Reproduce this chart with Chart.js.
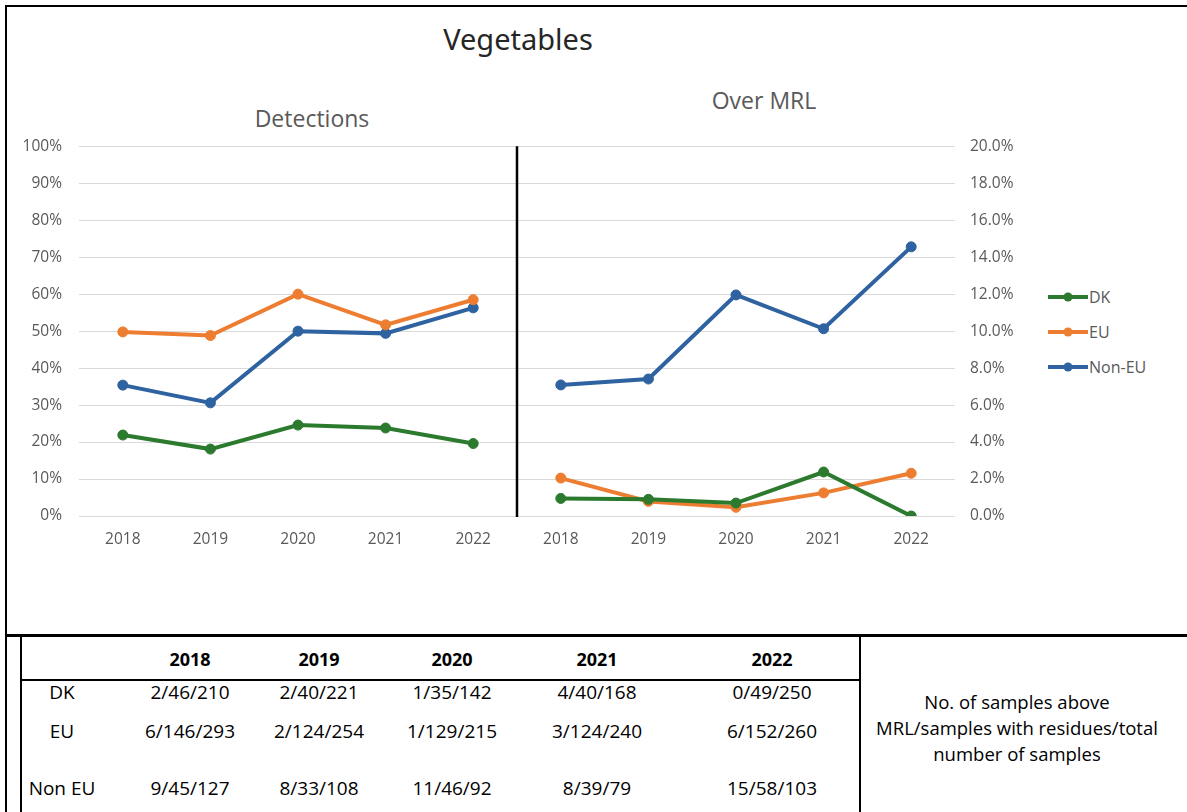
<!DOCTYPE html>
<html>
<head>
<meta charset="utf-8">
<title>Vegetables</title>
<script src="https://cdn.jsdelivr.net/npm/chart.js@4.4.1/dist/chart.umd.min.js"></script>
<style>
  body { margin: 0; background: #fff; }
  #page { position: relative; width: 1187px; height: 812px; overflow: hidden; font-family: "Open Sans", Roboto, sans-serif; }
  .rule { position: absolute; background: #000; }
  #chartBox { position: absolute; left: 0; top: 120px; width: 1040px; height: 450px; }
  .heading { position: absolute; transform: translate(-50%, -50%); white-space: nowrap; }
  #legend { position: absolute; left: 1048px; top: 279px; font-size: 16px; color: #595959; }
  #legend div { display: flex; align-items: center; height: 35px; }
  #legend svg { margin-right: 1px; }
  .cell { position: absolute; transform: translate(-50%, -50%); white-space: nowrap; font-family: "Open Sans", "Noto Sans", sans-serif; font-size: 19px; color: #000; }
  #note { position: absolute; left: 862px; width: 310px; top: 689px; text-align: center; line-height: 26px; font-family: "Open Sans", "Noto Sans", sans-serif; font-size: 18.5px; }
</style>
</head>
<body>
<div id="page">
  <div class="rule" style="left:5px;top:5px;width:1182px;height:2px"></div>
  <div class="rule" style="left:5px;top:5px;width:2px;height:807px"></div>
  <div class="rule" style="left:5px;top:634px;width:1182px;height:3px"></div>
  <div class="rule" style="left:20px;top:636px;width:2px;height:176px"></div>
  <div class="rule" style="left:20px;top:679px;width:841px;height:2px"></div>
  <div class="rule" style="left:859px;top:636px;width:2px;height:176px"></div>

  <div class="heading" style="left:518px;top:38px;font-size:29px;color:#262626;font-family:'Noto Sans',sans-serif">Vegetables</div>
  <div class="heading" style="left:312px;top:118px;font-size:23px;color:#595959">Detections</div>
  <div class="heading" style="left:764px;top:100px;font-size:23px;color:#595959">Over MRL</div>

  <div id="chartBox"><canvas id="vegChart"></canvas></div>
  <div id="legend"></div>

  <div id="tableCells"></div>
  <div id="note">No. of samples above<br>MRL/samples with residues/total<br>number of samples</div>
</div>

<script>
// Years shown in each panel
const years = ["2018", "2019", "2020", "2021", "2022"];
const seriesNames = ["DK", "EU", "Non-EU"];
const seriesColors = ["#2B7A2E", "#ED7D31", "#2F62A0"];

// Detections, % of samples with residues
const detDK = [21.9, 18.1, 24.6, 23.8, 19.6];
const detEU = [49.8, 48.8, 60.0, 51.7, 58.5];
const detNonEU = [35.4, 30.6, 50.0, 49.4, 56.3];

// Over MRL, % of samples above the limit
const mrlDK = [0.95, 0.9, 0.7, 2.38, 0.0];
const mrlEU = [2.05, 0.79, 0.47, 1.25, 2.31];
const mrlNonEU = [7.09, 7.41, 11.96, 10.13, 14.56];

// Table: above MRL / with residues / total
const tableRowNames = ["DK", "EU", "Non EU"];
const tableDK = ["2/46/210", "2/40/221", "1/35/142", "4/40/168", "0/49/250"];
const tableEU = ["6/146/293", "2/124/254", "1/129/215", "3/124/240", "6/152/260"];
const tableNonEU = ["9/45/127", "8/33/108", "11/46/92", "8/39/79", "15/58/103"];

const blanks = years.map(() => null);
const labels = years.concat(years);

function leftPanel(values) { return values.concat(blanks); }
function rightPanel(values) { return blanks.concat(values); }

function lineSet(i, data, axis) {
  return {
    label: seriesNames[i],
    data: data,
    yAxisID: axis,
    borderColor: seriesColors[i],
    backgroundColor: seriesColors[i],
    borderWidth: 4,
    pointRadius: 5,
    pointBorderWidth: 1,
    spanGaps: false,
    tension: 0
  };
}

// Black divider between the two panels
const dividerPlugin = {
  id: "divider",
  beforeDatasetsDraw(chart) {
    const x = chart.scales.x;
    const area = chart.chartArea;
    const pos = (x.getPixelForValue(4) + x.getPixelForValue(5)) / 2;
    const ctx = chart.ctx;
    ctx.save();
    ctx.strokeStyle = "#000";
    ctx.lineWidth = 2.5;
    ctx.beginPath();
    ctx.moveTo(pos, area.top);
    ctx.lineTo(pos, area.bottom + 1);
    ctx.stroke();
    ctx.restore();
  }
};

const tickFont = { family: "'Open Sans', Roboto, sans-serif", size: 15.5 };

new Chart(document.getElementById("vegChart"), {
  type: "line",
  data: {
    labels: labels,
    datasets: [
      lineSet(0, leftPanel(detDK), "y"),
      lineSet(1, leftPanel(detEU), "y"),
      lineSet(2, leftPanel(detNonEU), "y"),
      lineSet(0, rightPanel(mrlDK), "y2"),
      lineSet(1, rightPanel(mrlEU), "y2"),
      lineSet(2, rightPanel(mrlNonEU), "y2")
    ]
  },
  options: {
    responsive: true,
    maintainAspectRatio: false,
    animation: false,
    layout: { padding: { top: 23, bottom: 0, left: 0, right: 0 } },
    plugins: {
      legend: { display: false },
      tooltip: { enabled: false }
    },
    scales: {
      x: {
        offset: true,
        grid: { display: false, drawTicks: false },
        border: { display: false },
        ticks: { color: "#595959", font: tickFont, padding: 14 },
        afterFit: (scale) => { scale.height = 54; }
      },
      y: {
        position: "left",
        min: 0,
        max: 100,
        ticks: { stepSize: 10, color: "#595959", font: tickFont, padding: 17, callback: (v) => v + "%" },
        grid: { color: "#D9D9D9", lineWidth: 1, drawTicks: false },
        border: { display: false },
        afterFit: (scale) => { scale.width = 79; }
      },
      y2: {
        position: "right",
        min: 0,
        max: 20,
        ticks: { stepSize: 2, color: "#595959", font: tickFont, padding: 15, callback: (v) => v.toFixed(1) + "%" },
        grid: { display: false, drawTicks: false },
        border: { display: false },
        afterFit: (scale) => { scale.width = 85; }
      }
    }
  },
  plugins: [dividerPlugin]
});

// Legend: line with a dot, then the series name
const legend = document.getElementById("legend");
seriesNames.forEach((name, i) => {
  const row = document.createElement("div");
  row.innerHTML =
    '<svg width="40" height="12"><line x1="0" y1="6" x2="40" y2="6" stroke="' + seriesColors[i] +
    '" stroke-width="4"/><circle cx="20" cy="6" r="4.5" fill="' + seriesColors[i] + '"/></svg><span>' + name + "</span>";
  legend.appendChild(row);
});

// Table under the chart
const colCenters = [62, 190, 319, 452, 597, 772];
const rowCenters = [659, 692, 731, 788];
const tableValues = [tableDK, tableEU, tableNonEU];
const cells = document.getElementById("tableCells");
function addCell(text, x, y, bold) {
  const el = document.createElement("div");
  el.className = "cell";
  el.style.left = x + "px";
  el.style.top = y + "px";
  if (bold) {
    el.style.fontWeight = "bold";
    el.style.fontSize = "18px";
  }
  el.textContent = text;
  cells.appendChild(el);
}
years.forEach((yr, c) => addCell(yr, colCenters[c + 1], rowCenters[0], true));
tableRowNames.forEach((name, r) => {
  addCell(name, colCenters[0], rowCenters[r + 1], false);
  tableValues[r].forEach((v, c) => addCell(v, colCenters[c + 1], rowCenters[r + 1], false));
});
</script>
</body>
</html>
